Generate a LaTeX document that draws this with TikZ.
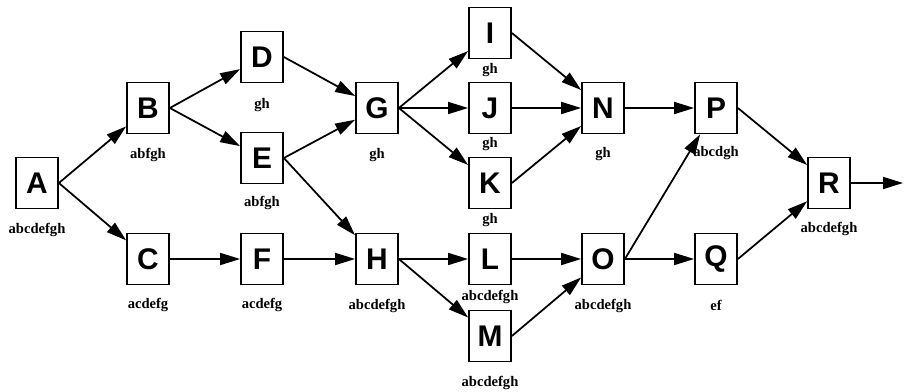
\documentclass[tikz,border=0pt]{standalone}
\usepackage{fontspec}
\setmainfont{Liberation Serif}
\setsansfont{Liberation Sans}
\usetikzlibrary{arrows.meta}

\begin{document}
\begin{tikzpicture}[
    act/.style={draw, line width=1pt, minimum width=8.4mm, minimum height=10.2mm, inner sep=0pt,
        font=\sffamily\bfseries\fontsize{17}{17}\selectfont},
    set/.style={inner sep=0pt, font=\bfseries\fontsize{8.3}{9}\selectfont},
    flow/.style={line width=1pt, -{Triangle[length=4mm, width=2.4mm]}}
]
    \useasboundingbox (0,0) rectangle (18.08,7.82);

    \node [act] (A) at (0.74,4.16) {A};
    \node [act] (B) at (2.96,5.66) {B};
    \node [act] (C) at (2.96,2.64) {C};
    \node [act] (D) at (5.24,6.68) {D};
    \node [act] (E) at (5.24,4.66) {E};
    \node [act] (F) at (5.24,2.64) {F};
    \node [act] (G) at (7.54,5.66) {G};
    \node [act] (H) at (7.54,2.64) {H};
    \node [act] (I) at (9.80,7.16) {I};
    \node [act] (J) at (9.80,5.66) {J};
    \node [act] (K) at (9.80,4.16) {K};
    \node [act] (L) at (9.80,2.64) {L};
    \node [act] (M) at (9.80,1.10) {M};
    \node [act] (N) at (12.06,5.66) {N};
    \node [act] (O) at (12.06,2.64) {O};
    \node [act] (P) at (14.32,5.66) {P};
    \node [act] (Q) at (14.32,2.64) {Q};
    \node [act] (R) at (16.58,4.16) {R};
    \coordinate (out) at (18.06,4.16);

    \node [set] (sA) at (0.74,3.22) {abcdefgh};
    \node [set] (sB) at (2.96,4.72) {abfgh};
    \node [set] (sC) at (2.96,1.72) {acdefg};
    \node [set] (sD) at (5.24,5.72) {gh};
    \node [set] (sE) at (5.24,3.76) {abfgh};
    \node [set] (sF) at (5.24,1.72) {acdefg};
    \node [set] (sG) at (7.54,4.72) {gh};
    \node [set] (sH) at (7.54,1.70) {abcdefgh};
    \node [set] (sI) at (9.80,6.42) {gh};
    \node [set] (sJ) at (9.80,4.94) {gh};
    \node [set] (sK) at (9.80,3.42) {gh};
    \node [set] (sL) at (9.80,1.88) {abcdefgh};
    \node [set] (sM) at (9.80,0.16) {abcdefgh};
    \node [set] (sN) at (12.06,4.74) {gh};
    \node [set] (sO) at (12.06,1.70) {abcdefgh};
    \node [set] (sP) at (14.32,4.76) {abcdgh};
    \node [set] (sQ) at (14.32,1.72) {ef};
    \node [set] (sR) at (16.58,3.24) {abcdefgh};

    \draw [flow] (A.east) -- (B);
    \draw [flow] (A.east) -- (C);
    \draw [flow] (B.east) -- (D);
    \draw [flow] (B.east) -- (E);
    \draw [flow] (C.east) -- (F);
    \draw [flow] (D.east) -- (G);
    \draw [flow] (E.east) -- (G);
    \draw [flow] (E.east) -- (H);
    \draw [flow] (F.east) -- (H);
    \draw [flow] (G.east) -- (I);
    \draw [flow] (G.east) -- (J);
    \draw [flow] (G.east) -- (K);
    \draw [flow] (H.east) -- (L);
    \draw [flow] (H.east) -- (M);
    \draw [flow] (I.east) -- (N);
    \draw [flow] (J.east) -- (N);
    \draw [flow] (K.east) -- (N);
    \draw [flow] (L.east) -- (O);
    \draw [flow] (M.east) -- (O);
    \draw [flow] (N.east) -- (P);
    \draw [flow] (O.east) -- (P);
    \draw [flow] (O.east) -- (Q);
    \draw [flow] (P.east) -- (R);
    \draw [flow] (Q.east) -- (R);
    \draw [flow] (R.east) -- (out);
\end{tikzpicture}
\end{document}
